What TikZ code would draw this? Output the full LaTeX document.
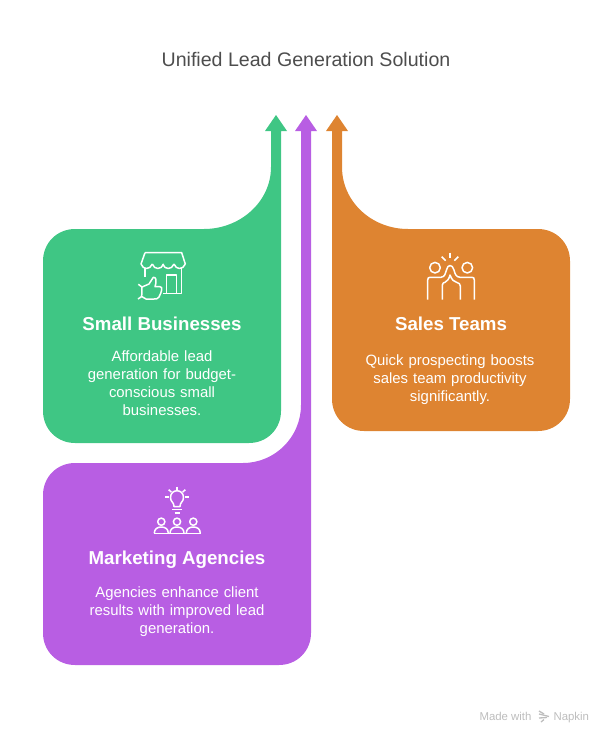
\documentclass[tikz,border=0pt]{standalone}
\usepackage{fontspec}
\setmainfont{Liberation Sans}
\definecolor{leadgreen}{HTML}{3FC684}
\definecolor{leadpurple}{HTML}{B85EE3}
\definecolor{leadorange}{HTML}{DE8431}
\definecolor{titlegray}{HTML}{4D4D4D}
\definecolor{footgray}{HTML}{BDBDBD}
\tikzset{
  band/.style={draw=none},
  icon/.style={draw=white, line width=1.5pt, line cap=butt, line join=round},
  heading/.style={text=white, font=\fontsize{18.7}{20}\selectfont\bfseries, anchor=base},
  blurb/.style={text=white, font=\fontsize{14.9}{18}\selectfont, align=center, text width=220pt},
}
\begin{document}
\begin{tikzpicture}[x=1pt,y=-1pt]
    \useasboundingbox (0,0) rectangle (613,744);
    \node [text=titlegray, font=\fontsize{19.6}{22}\selectfont] (title) at (306,59.5) {Unified Lead Generation Solution};
    % green
    \fill [band, leadgreen] (75,229) -- (204,229) .. controls (240,229) and (271,202) .. (271,167)
        -- (271,131) -- (265,131) -- (276,115) -- (287,131) -- (281,131) -- (281,411)
        .. controls (281,429) and (267,443) .. (249,443) -- (75,443)
        .. controls (57,443) and (43,429) .. (43,411) -- (43,261)
        .. controls (43,243) and (57,229) .. (75,229) -- cycle;
    % purple
    \fill [band, leadpurple] (75,463) -- (243,463) .. controls (275,463) and (301,437) .. (301,405)
        -- (301,131) -- (295,131) -- (306,115) -- (317,131) -- (311,131) -- (311,633)
        .. controls (311,651) and (297,665) .. (279,665) -- (75,665)
        .. controls (57,665) and (43,651) .. (43,633) -- (43,495)
        .. controls (43,477) and (57,463) .. (75,463) -- cycle;
    % orange
    \fill [band, leadorange] (538,229) -- (408,229) .. controls (372,229) and (342,202) .. (342,167)
        -- (342,131) -- (348,131) -- (337,115) -- (326,131) -- (332,131) -- (332,399)
        .. controls (332,417) and (346,431) .. (364,431) -- (538,431)
        .. controls (556,431) and (570,417) .. (570,399) -- (570,261)
        .. controls (570,243) and (556,229) .. (538,229) -- cycle;
    % store and thumb
    \draw [icon] (145,252.7) -- (181.7,252.7) -- (185.3,264);
    \draw [icon] (145,252.7) -- (141,264);
    \foreach \x in {141,152.3,162.7,174}
    {
        \draw [icon] (\x,264) .. controls (\x+2,270) and (\x+9,270) .. (\x+11.3,264);
    }
    \draw [icon] (145,267.5) -- (145,277);
    \draw [icon] (181.7,267.5) -- (181.7,293.3) -- (163.3,293.3);
    \draw [icon] (166.7,293.3) -- (166.7,275) -- (176.7,275) -- (176.7,293.3);
    \draw [icon] (138.3,284.3) -- (142,287) -- (149,284) -- (153.3,277.3) .. controls (156,277) and (157,280) .. (155,286.7)
        -- (160,286.7) .. controls (163,287) and (162,291) .. (159,297) .. controls (158,299) and (156,299) .. (154,299)
        -- (146,299) -- (141.7,296.5) -- (138,299);
    \draw [icon] (142,287) -- (141.7,296.5);
    % high five
    \foreach \a/\b/\c/\d in {450/252.7/450/258.3,441.7/256.7/445.7/260.7,458.3/256.7/454.3/260.7}
    {
        \draw [icon] (\a,\b) -- (\c,\d);
    }
    \foreach \x in {435,467.3}
    {
        \draw [icon] (\x,267.7) circle (5.3);
    }
    \draw [icon] (427.7,299.5) -- (427.7,280) .. controls (427.7,278) and (428.5,277.3) .. (430,277.3) -- (441,277.3)
        .. controls (445,277) and (445.5,273) .. (446.5,270) .. controls (447.5,264) and (452.5,264) .. (454,270)
        .. controls (455,274) and (456,277) .. (460,277.3) -- (472,277.3) .. controls (473.5,277.3) and (474.3,278) .. (474.3,280) -- (474.3,299.5);
    \draw [icon] (442.3,299.5) -- (442.3,285) .. controls (442.3,283) and (444,282.5) .. (445,282.3)
        .. controls (447,281.5) and (449,279) .. (450,275) .. controls (452,280) and (454,282) .. (457,282.5) .. controls (459,283) and (460.3,284) .. (460.3,286) -- (460.3,299.5);
    % bulb and people
    \draw [icon] (174,506.5) .. controls (174,502) and (170.5,502) .. (170.5,497.5) .. controls (170.5,488.5) and (183.5,488.5) .. (183.5,497.5)
        .. controls (183.5,502) and (180,502) .. (180,506.5) -- cycle;
    \draw [icon] (172,509.5) -- (182,509.5);
    \draw [icon] (174.5,513) -- (179.5,513);
    \foreach \a/\b/\c/\d in {177/486.5/177/490,168.7/489.7/171.3/492,185.3/489.7/182.7/492,165.3/497/169/497,185/497/188.7/497}
    {
        \draw [icon] (\a,\b) -- (\c,\d);
    }
    \foreach \x in {161.3,177,193.3}
    {
        \draw [icon] (\x,521.7) circle (3.6);
        \draw [icon] (\x-7,533.3) .. controls (\x-7,529) and (\x-4,527) .. (\x,527) .. controls (\x+4,527) and (\x+7,529) .. (\x+7,533.3);
    }
    \draw [icon] (153.5,533.3) -- (201,533.3);
    % labels
    \node [heading] (smallhead) at (162,330.5) {Small Businesses};
    \node [blurb] (smalltext) at (162,383) {Affordable lead\\generation for budget-\\conscious small\\businesses.};
    \node [heading] (agencyhead) at (177,564) {Marketing Agencies};
    \node [blurb] (agencytext) at (177,612) {Agencies enhance client\\results with improved lead\\generation.};
    \node [heading] (saleshead) at (451,330.5) {Sales Teams};
    \node [blurb] (salestext) at (450,380) {Quick prospecting boosts\\sales team productivity\\significantly.};
    % footer
    \node [text=footgray, font=\fontsize{11.4}{13}\selectfont, anchor=base east] (madewith) at (535,720) {Made with};
    \node [text=footgray, font=\fontsize{11.4}{13}\selectfont, anchor=base west] (napkin) at (550,720) {Napkin};
    \foreach \a/\b/\c/\d in {539/711/544/714,539/714/549/716.5,539/718/547/717.5,541/722/544/719.5}
    {
        \draw [footgray, line width=1.3pt] (\a,\b) -- (\c,\d);
    }
\end{tikzpicture}
\end{document}
